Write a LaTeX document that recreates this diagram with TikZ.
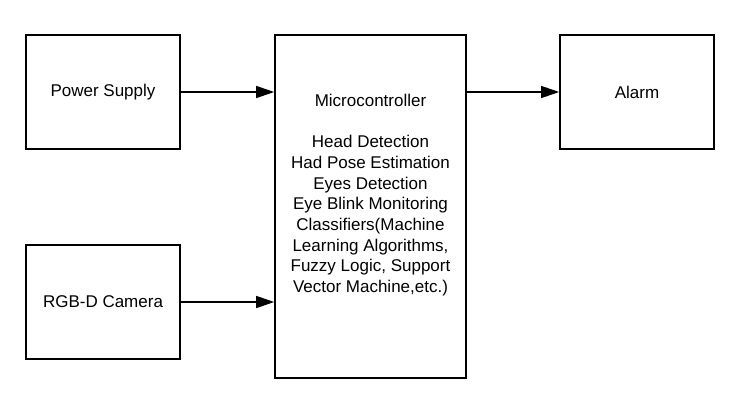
\documentclass[tikz,border=0pt]{standalone}
\usepackage{fontspec}
\setmainfont{Liberation Sans}
\usetikzlibrary{arrows.meta}

\tikzset{
  block/.style={draw, line width=1.6pt, inner sep=0pt, align=center,
    font=\fontsize{17}{20.7}\selectfont},
  link/.style={line width=1.3pt, -{Triangle[length=18pt,width=12pt]}}
}

\begin{document}
\begin{tikzpicture}[x=1pt,y=-1pt]
  \useasboundingbox (0,0) rectangle (748,408);

  % Inputs
  \node[block, minimum width=154pt, minimum height=114pt] (power) at (103,92) {Power Supply};
  \node[block, minimum width=154pt, minimum height=114pt] (camera) at (103,302) {RGB-D Camera};

  % Processing unit
  \node[block, minimum width=191pt, minimum height=343pt] (micro) at (370.5,206.5) {};
  \node[block, draw=none] (microtext) at ([yshift=11.5pt]micro.center)
    {Microcontroller\\[20.7pt]
     Head Detection\\
     Had Pose Estimation\\
     Eyes Detection\\
     Eye Blink Monitoring\\
     Classifiers(Machine\\
     Learning Algorithms,\\
     Fuzzy Logic, Support\\
     Vector Machine,etc.)};

  % Output
  \node[block, minimum width=154pt, minimum height=114pt] (alarm) at (637,92) {Alarm};

  % Connections
  \draw[link] (power.east) -- (power.east -| micro.west);
  \draw[link] (camera.east) -- (camera.east -| micro.west);
  \draw[link] (alarm.west -| micro.east) -- (alarm.west);
\end{tikzpicture}
\end{document}
